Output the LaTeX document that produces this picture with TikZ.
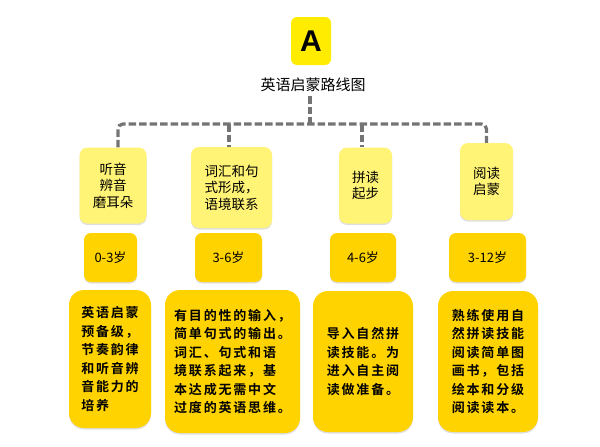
\documentclass[tikz,border=0pt]{standalone}
\usepackage{fontspec}
\newfontfamily\cjk{Noto Sans CJK SC}
\newfontfamily\cjkb[LetterSpace=14]{Noto Sans CJK SC Bold}
\setsansfont{Liberation Sans}
\usetikzlibrary{shadows}
\definecolor{ayellow}{HTML}{FFEC00}
\definecolor{lyellow}{HTML}{FFF475}
\definecolor{gold}{HTML}{FFD300}
\definecolor{conngray}{HTML}{747474}
\tikzset{
  topbox/.style={fill=lyellow, rounded corners=8pt, inner sep=0pt, align=center,
    font=\cjk\fontsize{13.5}{16.5}\selectfont,
    drop shadow={shadow xshift=0pt, shadow yshift=-1.5pt, opacity=0.25, fill=gray}},
  agebox/.style={fill=gold, rounded corners=7pt, inner sep=0pt, minimum height=49pt,
    font=\cjk\fontsize{13}{15}\selectfont,
    drop shadow={shadow xshift=0pt, shadow yshift=-1.5pt, opacity=0.25, fill=gray}},
  descbox/.style={fill=gold, rounded corners=15pt, inner sep=0pt, align=left,
    font=\cjkb\fontsize{13}{18.5}\selectfont,
    drop shadow={shadow xshift=0pt, shadow yshift=-1.5pt, opacity=0.25, fill=gray}},
  conn/.style={draw=conngray, line width=3.2pt, dash pattern=on 7.5pt off 3pt},
}
\begin{document}
\begin{tikzpicture}[x=1pt, y=-1pt]
\useasboundingbox (0,0) rectangle (600,447);
% header
\node[fill=ayellow, rounded corners=6pt, minimum width=40pt, minimum height=48pt, inner sep=0pt,
  font=\sffamily\bfseries\fontsize{30}{30}\selectfont] (A) at (311,41) {A};
\node[font=\cjk\fontsize{15}{18}\selectfont, inner sep=1pt] (title) at (313,85) {英语启蒙路线图};
% top boxes
\node[topbox, minimum width=67pt, minimum height=76pt] (t1) at (113,185.5) {听音\\辨音\\磨耳朵};
\node[topbox, minimum width=81pt, minimum height=81pt, align=left] (t2) at (231.5,187.5) {词汇和句\\式形成，\\语境联系};
\node[topbox, minimum width=53pt, minimum height=76pt] (t3) at (365.5,185.5) {拼读\\起步};
\node[topbox, minimum width=53pt, minimum height=77pt] (t4) at (486.5,181.5) {阅读\\启蒙};
% age boxes
\node[agebox, minimum width=53pt] (a1) at (110.5,257.5) {0-3岁};
\node[agebox, minimum width=67pt] (a2) at (228.5,257.5) {3-6岁};
\node[agebox, minimum width=66pt] (a3) at (363,257.5) {4-6岁};
\node[agebox, minimum width=77pt] (a4) at (487.5,257.5) {3-12岁};
% description boxes
\node[descbox, minimum width=82pt, minimum height=138pt] (d1) at (110,359)
  {英语启蒙\\预备级，\\节奏韵律\\和听音辨\\音能力的\\培养};
\node[descbox, minimum width=135pt, minimum height=143pt] (d2) at (232.5,361.5)
  {有目的性的输入，\\简单句式的输出。\\词汇、句式和语\\境联系起来，基\\本达成无需中文\\过度的英语思维。};
\node[descbox, minimum width=100pt, minimum height=141pt] (d3) at (363,361.5)
  {导入自然拼\\读技能。为\\进入自主阅\\读做准备。};
\node[descbox, minimum width=100pt, minimum height=141pt] (d4) at (488,361.5)
  {熟练使用自\\然拼读技能\\阅读简单图\\画书，包括\\绘本和分级\\阅读读本。};
% connectors
\coordinate (bus) at (310,124);
\draw[conn, shorten <=3pt] (title.south -| bus) -- (bus);
\draw[conn, rounded corners=5pt] (t1.north -| 118,0) |- (bus) -| (t4.north);
\draw[conn] (bus -| 229,0) -- (t2.north -| 229,0);
\draw[conn] (bus -| 362,0) -- (t3.north -| 362,0);
\end{tikzpicture}
\end{document}
